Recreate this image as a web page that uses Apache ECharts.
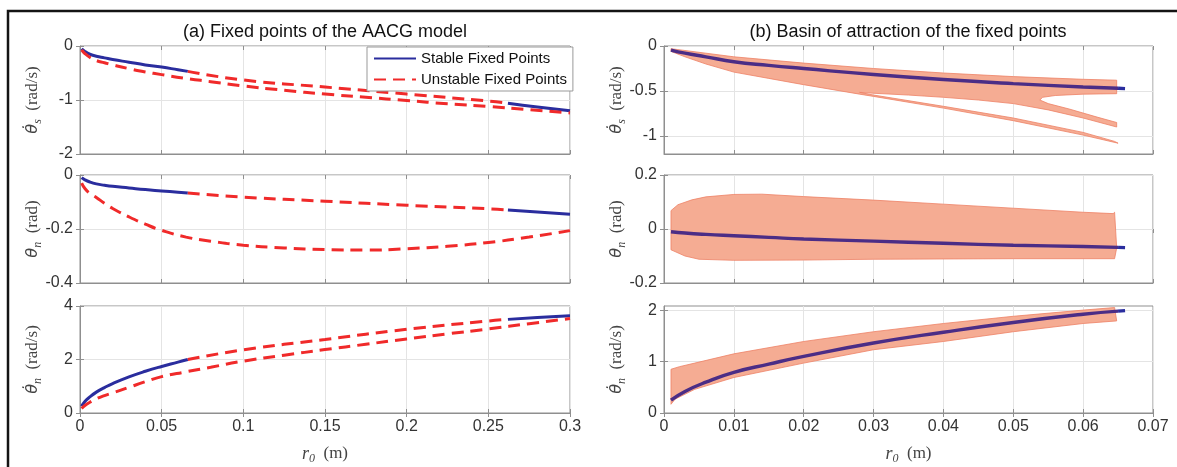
<!DOCTYPE html>
<html><head><meta charset="utf-8">
<script src="https://cdn.jsdelivr.net/npm/echarts@6/dist/echarts.min.js"></script>
<style>html,body{margin:0;padding:0;background:#fff;}#c{width:1177px;height:467px;}</style>
</head><body><div id="c"></div>
<script>
// ================= DATA =================
// tick labels
const ticksAx = [0, 0.05, 0.1, 0.15, 0.2, 0.25, 0.3];
const ticksBx = [0, 0.01, 0.02, 0.03, 0.04, 0.05, 0.06, 0.07];
const ticksA1 = [-2, -1, 0];
const ticksA2 = [-0.4, -0.2, 0];
const ticksA3 = [0, 2, 4];
const ticksB1 = [-1, -0.5, 0];
const ticksB2 = [-0.2, 0, 0.2];
const ticksB3 = [0, 1, 2];

// (a) r0 samples of the branches
const aR_stab1 = [0.001,0.003,0.006,0.01,0.015,0.02,0.03,0.04,0.05,0.06,0.066];
const aR_unst1 = [0.066,0.1,0.15,0.2,0.25,0.262];
const aR_stab2 = [0.262,0.28,0.3];
const aR_unst2 = [0.001,0.003,0.006,0.01,0.015,0.02,0.03,0.04,0.05,0.065,0.08,0.1,0.125,0.15,0.175,0.2,0.225,0.25,0.275,0.3];
// (a) theta_s dot
const dThs_stab1 = [-0.05,-0.1,-0.15,-0.19,-0.22,-0.25,-0.3,-0.35,-0.39,-0.44,-0.47];
const dThs_unst1 = [-0.47,-0.63,-0.76,-0.89,-1.02,-1.06];
const dThs_stab2 = [-1.06,-1.13,-1.2];
const dThs_unst2 = [-0.07,-0.14,-0.21,-0.27,-0.31,-0.35,-0.42,-0.48,-0.53,-0.6,-0.66,-0.74,-0.82,-0.89,-0.95,-1.01,-1.07,-1.12,-1.18,-1.24];
// (a) theta_n
const thn_stab1 = [-0.01,-0.018,-0.026,-0.033,-0.038,-0.042,-0.048,-0.054,-0.059,-0.064,-0.067];
const thn_unst1 = [-0.067,-0.082,-0.097,-0.112,-0.125,-0.13];
const thn_stab2 = [-0.13,-0.137,-0.145];
const thn_unst2 = [-0.03,-0.05,-0.068,-0.083,-0.105,-0.124,-0.155,-0.182,-0.205,-0.23,-0.245,-0.26,-0.27,-0.276,-0.278,-0.273,-0.264,-0.25,-0.23,-0.206];
// (a) theta_n dot
const dThn_stab1 = [0.25,0.43,0.6,0.78,0.95,1.1,1.35,1.56,1.74,1.9,2.0];
const dThn_unst1 = [2.0,2.36,2.75,3.13,3.44,3.5];
const dThn_stab2 = [3.5,3.57,3.64];
const dThn_unst2 = [0.17,0.28,0.4,0.53,0.65,0.75,0.96,1.17,1.36,1.54,1.71,1.94,2.16,2.37,2.57,2.77,2.96,3.14,3.34,3.53];

// (b) stable fixed-point curve
const bR_line = [0.001,0.003,0.006,0.01,0.015,0.02,0.03,0.04,0.05,0.06,0.065];
const bR_tail = [0.065,0.066];
const bThs_line = [-0.045,-0.08,-0.12,-0.175,-0.215,-0.25,-0.317,-0.373,-0.418,-0.455,-0.47];
const bThs_tail = [-0.47,-0.474];
const bThn_line = [-0.01,-0.015,-0.02,-0.025,-0.031,-0.037,-0.045,-0.053,-0.06,-0.065,-0.068];
const bThn_tail = [-0.068,-0.069];
const bdThn_line = [0.25,0.42,0.6,0.79,0.95,1.1,1.36,1.57,1.76,1.92,1.98];
const bdThn_tail = [1.98,1.99];

// (b) basin outlines (r0, value)
const basinThs_r = [0.001,0.003,0.006,0.01,0.02,0.03,0.04,0.05,0.06,0.0648,
  0.0648,0.06,0.056,0.0542,0.0538,0.055,0.058,0.062,0.0648,
  0.0648,0.06,0.055,0.05,0.045,0.04,0.035,0.03,0.028,
  0.03,0.04,0.05,0.06,0.0645,0.065,0.06,0.05,0.04,0.03,0.028,
  0.02,0.015,0.01,0.006,0.003,0.001];
const basinThs_v = [-0.03,-0.05,-0.08,-0.12,-0.19,-0.25,-0.3,-0.34,-0.37,-0.38,
  -0.53,-0.535,-0.55,-0.57,-0.6,-0.64,-0.7,-0.79,-0.85,
  -0.9,-0.8,-0.71,-0.64,-0.6,-0.57,-0.545,-0.525,-0.515,
  -0.545,-0.67,-0.8,-0.96,-1.06,-1.08,-0.99,-0.83,-0.69,-0.56,-0.535,
  -0.43,-0.36,-0.29,-0.2,-0.12,-0.06];
const basinThn_r = [0.001,0.002,0.004,0.006,0.01,0.014,0.02,0.03,0.04,0.05,0.06,0.0643,0.0645,0.0648,0.0645,
  0.05,0.03,0.02,0.01,0.005,0.003,0.001];
const basinThn_v = [0.068,0.09,0.108,0.119,0.128,0.129,0.12,0.107,0.092,0.077,0.062,0.057,0.062,-0.07,-0.11,
  -0.11,-0.112,-0.115,-0.116,-0.112,-0.1,-0.077];
const basinDThn_r = [0.001,0.0022,0.0044,0.01,0.02,0.03,0.04,0.05,0.06,0.0645,0.0648,
  0.06,0.05,0.04,0.03,0.02,0.01,0.0044,0.0016,0.001];
const basinDThn_v = [0.85,0.9,0.97,1.15,1.39,1.58,1.74,1.88,2.0,2.05,1.79,
  1.74,1.58,1.39,1.23,0.97,0.69,0.46,0.27,0.17];

// ================= STYLE / BUILD =================
const BLUE = '#2a2d9e', RED = '#f02a2a', PURPLE = '#4b2d86', FILL = '#f5ac93', EDGE = '#ee8266';
const AXC = '#8f8f8f', GRIDC = '#e4e4e4', TXT = '#333';
const FONT = 'Liberation Sans, Arial, sans-serif';
const SERIF = 'Liberation Serif, DejaVu Serif, serif';
const GREEK = 'DejaVu Sans, sans-serif';

const grids = [];
const tops = [46, 175, 306], hts = [108, 108, 107];
for (let i = 0; i < 3; i++) grids.push({left: 80, width: 490, top: tops[i], height: hts[i], show: true, borderColor: AXC, borderWidth: 1, backgroundColor: 'transparent'});
for (let i = 0; i < 3; i++) grids.push({left: 664, width: 489, top: tops[i], height: hts[i], show: true, borderColor: AXC, borderWidth: 1, backgroundColor: 'transparent'});

const nameRich = {
  t: {fontFamily: GREEK, fontStyle: 'italic', fontSize: 16, lineHeight: 22, color: '#444', verticalAlign: 'middle'},
  r: {fontFamily: SERIF, fontStyle: 'italic', fontSize: 18, lineHeight: 22, color: '#444', verticalAlign: 'middle'},
  s: {fontFamily: SERIF, fontStyle: 'italic', fontSize: 12, lineHeight: 12, color: '#444', verticalAlign: 'bottom'},
  u: {fontFamily: SERIF, fontSize: 17, lineHeight: 22, color: '#444', verticalAlign: 'middle'}
};

function xAx(gi, max, interval, ticks, labels) {
  return {type: 'value', gridIndex: gi, min: 0, max: max, interval: interval,
    axisLine: {show: true, onZero: false, lineStyle: {color: AXC, width: 1}},
    axisTick: {show: true, inside: true, length: 4, customValues: ticks, lineStyle: {color: AXC}},
    axisLabel: {show: labels, customValues: ticks, color: TXT, fontSize: 16, fontFamily: FONT, margin: 6},
    splitLine: {show: true, lineStyle: {color: GRIDC, width: 1}},
    name: labels ? '{r|r}{s|0}{u|  (m)}' : '', nameLocation: 'middle', nameGap: 30, nameMoveOverlap: false,
    nameTextStyle: {rich: nameRich}};
}
function yAx(gi, min, max, interval, ticks, name) {
  const o = {type: 'value', gridIndex: gi, min: min, max: max,
    axisLine: {show: true, onZero: false, lineStyle: {color: AXC, width: 1}},
    axisTick: {show: true, inside: true, length: 4, customValues: ticks, lineStyle: {color: AXC}},
    axisLabel: {customValues: ticks, color: TXT, fontSize: 16, fontFamily: FONT, margin: 7},
    splitLine: {show: true, lineStyle: {color: GRIDC, width: 1}},
    name: name, nameLocation: 'middle', nameGap: 36, nameRotate: 90, nameMoveOverlap: false,
    nameTextStyle: {rich: nameRich}};
  if (interval) o.interval = interval;
  return o;
}
// mirror axes: tick marks only, on the top / right sides of each box
function mirror(base, pos) {
  return {type: 'value', gridIndex: base.gridIndex, min: base.min, max: base.max, position: pos,
    axisLine: {show: false}, axisLabel: {show: false}, splitLine: {show: false},
    axisTick: {show: true, inside: true, length: 4, customValues: base.axisTick.customValues, lineStyle: {color: AXC}}};
}
const nThs = '{t|θ̇}{s|s}{u|  (rad/s)}';
const nThn = '{t|θ}{s|n}{u|  (rad)}';
const nDThn = '{t|θ̇}{s|n}{u|  (rad/s)}';

const xMain = [
  xAx(0, 0.3, 0.05, ticksAx, false), xAx(1, 0.3, 0.05, ticksAx, false), xAx(2, 0.3, 0.05, ticksAx, true),
  xAx(3, 0.07, 0.01, ticksBx, false), xAx(4, 0.07, 0.01, ticksBx, false), xAx(5, 0.07, 0.01, ticksBx, true)
];
const yMain = [
  yAx(0, -2, 0, 1, ticksA1, nThs), yAx(1, -0.4, 0, 0.2, ticksA2, nThn), yAx(2, 0, 4, 2, ticksA3, nDThn),
  yAx(3, -1.2, 0, null, ticksB1, nThs), yAx(4, -0.2, 0.2, 0.2, ticksB2, nThn), yAx(5, 0, 2.08, 1, ticksB3, nDThn)
];
const xAxes = xMain.concat(xMain.map(a => mirror(a, 'top')));
const yAxes = yMain.concat(yMain.map(a => mirror(a, 'right')));

const zip = (a, b) => a.map((x, i) => [x, b[i]]);
function line(idx, name, rs, vs, color, dashed, z, w) {
  return {type: 'line', name: name, xAxisIndex: idx, yAxisIndex: idx, data: zip(rs, vs),
    symbol: 'none', smooth: true, z: z || 3, silent: true,
    lineStyle: {color: color, width: w || 3, type: dashed ? [12, 7] : 'solid', cap: 'butt'},
    itemStyle: {color: color}};
}
function poly(idx, rs, vs) {
  return {type: 'custom', xAxisIndex: idx, yAxisIndex: idx, data: zip(rs, vs), z: 2, silent: true,
    renderItem: function (params, api) {
      if (params.dataIndex !== 0) return null;
      const pts = rs.map((r, i) => api.coord([r, vs[i]]));
      return {type: 'polygon', shape: {points: pts, smooth: 0},
        style: {fill: FILL, stroke: EDGE, lineWidth: 0.8}};
    }};
}
const S = 'Stable Fixed Points', U = 'Unstable Fixed Points';
const series = [];
const aSets = [
  [dThs_stab1, dThs_unst1, dThs_stab2, dThs_unst2],
  [thn_stab1, thn_unst1, thn_stab2, thn_unst2],
  [dThn_stab1, dThn_unst1, dThn_stab2, dThn_unst2]
];
aSets.forEach((s, i) => {
  series.push(line(i, S, aR_stab1, s[0], BLUE, false));
  series.push(line(i, U, aR_unst1, s[1], RED, true));
  series.push(line(i, S, aR_stab2, s[2], BLUE, false));
  series.push(line(i, U, aR_unst2, s[3], RED, true));
});
const bSets = [
  [basinThs_r, basinThs_v, bThs_line, bThs_tail],
  [basinThn_r, basinThn_v, bThn_line, bThn_tail],
  [basinDThn_r, basinDThn_v, bdThn_line, bdThn_tail]
];
bSets.forEach((s, i) => {
  series.push(poly(3 + i, s[0], s[1]));
  series.push(line(3 + i, 'basin', bR_line, s[2], PURPLE, false, 4, 3.4));
  series.push(line(3 + i, 'basin', bR_tail, s[3], BLUE, false, 4, 3.4));
});

const chart = echarts.init(document.getElementById('c'), null, {renderer: 'canvas'});
chart.setOption({
  animation: false,
  backgroundColor: '#fff',
  grid: grids, xAxis: xAxes, yAxis: yAxes, series: series,
  legend: {data: [S, U], orient: 'vertical', left: 367, top: 47, itemWidth: 42, itemHeight: 14, itemGap: 6,
    padding: [4, 6, 4, 6], backgroundColor: '#fff', borderColor: '#999', borderWidth: 1, borderRadius: 0,
    selectedMode: false, itemStyle: {opacity: 0, borderWidth: 0},
    textStyle: {fontSize: 15, color: '#111', fontFamily: FONT}},
  graphic: [
    {type: 'text', x: 325, y: 32, silent: true, style: {text: '(a) Fixed points of the AACG model', font: '18px ' + FONT, fill: '#111', align: 'center', verticalAlign: 'middle'}},
    {type: 'text', x: 908, y: 32, silent: true, style: {text: '(b) Basin of attraction of the fixed points', font: '18px ' + FONT, fill: '#111', align: 'center', verticalAlign: 'middle'}},
    {type: 'rect', silent: true, z: 100, shape: {x: 8, y: 11, width: 1400, height: 600}, style: {fill: 'none', stroke: '#141414', lineWidth: 2.5}}
  ]
});
</script></body></html>
